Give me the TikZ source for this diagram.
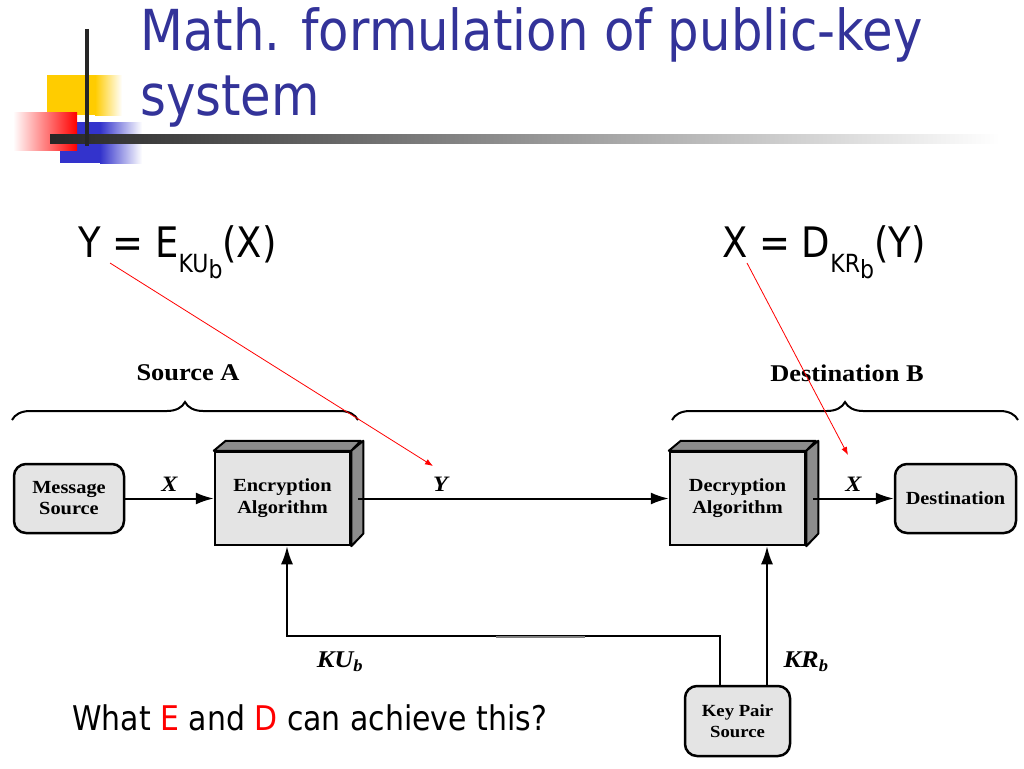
\documentclass[tikz,border=0pt]{standalone}
\usepackage{fontspec}
\setmainfont[FakeStretch=1.1]{Liberation Serif}
\newfontfamily\tahoma[FakeStretch=0.88]{DejaVu Sans}
\usepackage{tikz}
\usetikzlibrary{positioning, arrows.meta, decorations.pathreplacing}
\definecolor{titleblue}{RGB}{51,51,153}
\definecolor{ornyellow}{RGB}{255,204,0}
\definecolor{ornblue}{RGB}{51,51,204}
\definecolor{boxgray}{RGB}{228,228,228}
\definecolor{sidegray}{RGB}{140,140,140}
\tikzset{
  roundbox/.style={draw, line width=2.5pt, rounded corners=12pt, fill=boxgray, align=center, font=\fontsize{18.5}{21}\selectfont\bfseries},
  algobox/.style={draw, line width=2.5pt, fill=boxgray, minimum width=135pt, minimum height=93pt, align=center, font=\fontsize{18.5}{22}\selectfont\bfseries},
  flow/.style={line width=2pt, -{Latex[length=18pt,width=12pt]}},
  hint/.style={red, line width=0.8pt, -{Latex[length=8pt,width=6pt]}},
  varlabel/.style={font=\fontsize{22}{24}\selectfont\bfseries\itshape},
  grouplabel/.style={font=\fontsize{24}{26}\selectfont\bfseries},
  groupbrace/.style={decorate, decoration={brace, amplitude=18pt}, line width=2pt}
}
\begin{document}
\begin{tikzpicture}[x=1pt,y=-1pt]
\useasboundingbox (0,0) rectangle (1024,768);
\fill[ornyellow] (47,75) rectangle (95,115);
\shade[left color=ornyellow, right color=white] (95,75) rectangle (122,115);
\fill[ornblue] (60,122) rectangle (100,163);
\shade[left color=ornblue, right color=white] (100,122) rectangle (142,163);
\shade[left color=white, right color=red] (13,112) rectangle (77,150);
\shade[left color=black!85, right color=white] (50,134) rectangle (1000,143);
\draw[line width=4pt, black!85] (87,29) -- (87,146);

\node[anchor=base west, inner sep=0, text=titleblue, font=\tahoma\fontsize{56.5}{60}\selectfont] (title1) at (140,50) {Math. formulation of public-key};
\node[anchor=base west, inner sep=0, text=titleblue, font=\tahoma\fontsize{56.5}{60}\selectfont] (title2) at (140,115) {system};

\node[anchor=base west, inner sep=0, font=\tahoma\fontsize{42}{46}\selectfont] (enceq) at (78,257) {Y = E\raisebox{-15pt}{\fontsize{25}{27}\selectfont KU\raisebox{-6pt}{b}}(X)};
\node[anchor=base west, inner sep=0, font=\tahoma\fontsize{42}{46}\selectfont] (deceq) at (722,257) {X = D\raisebox{-15pt}{\fontsize{25}{27}\selectfont KR\raisebox{-6pt}{b}}(Y)};

\node[grouplabel] (srcA) at (188,373) {Source A};
\node[grouplabel] (dstB) at (847,373) {Destination B};
\draw[groupbrace] (12,420) -- (358,420);
\draw[groupbrace] (672,420) -- (1018,420);

\node[roundbox, minimum width=110pt, minimum height=69pt] (msg) at (69,498.5) {Message\\Source};
\node[algobox] (enc) at (282.5,498.5) {Encryption\\Algorithm};
\node[algobox] (dec) at (737.5,498.5) {Decryption\\Algorithm};
\node[roundbox, minimum width=121pt, minimum height=69pt] (dst) at (955.5,498.5) {Destination};
\node[roundbox, minimum width=105pt, minimum height=70pt, font=\fontsize{17}{21}\selectfont\bfseries] (keys) at (737.5,721) {Key Pair\\Source};

\fill[sidegray, draw=black, line width=2pt, line join=round] (enc.north west) -- ++(12,-10) -- ++(135,0) -- (enc.north east) -- cycle;
\fill[sidegray, draw=black, line width=2pt, line join=round] (enc.north east) -- ++(12,-10) -- ++(0,93) -- (enc.south east) -- cycle;
\fill[sidegray, draw=black, line width=2pt, line join=round] (dec.north west) -- ++(12,-10) -- ++(135,0) -- (dec.north east) -- cycle;
\fill[sidegray, draw=black, line width=2pt, line join=round] (dec.north east) -- ++(12,-10) -- ++(0,93) -- (dec.south east) -- cycle;

\draw[flow] (msg.east) -- (msg.east -| enc.west) node[varlabel, midway, above=3pt] {X};
\draw[flow] ([xshift=7pt]enc.east) -- (dec.west) node[varlabel, pos=0.265, above=3pt] {Y};
\draw[flow] ([xshift=7pt]dec.east) -- (dst.west) node[varlabel, midway, above=3pt] {X};
\draw[flow] ([xshift=-17.5pt]keys.north) -- ++(0,-49) -| ([xshift=4.5pt]enc.south);
\draw[line width=2pt, gray] (496,637) -- (585,637);
\draw[flow] ([xshift=29.5pt]keys.north) -- ([xshift=29.5pt]dec.south);
\node[varlabel, font=\fontsize{24}{26}\selectfont\bfseries\itshape] (kulabel) at (340,662) {KU\textsubscript{b}};
\node[varlabel, font=\fontsize{24}{26}\selectfont\bfseries\itshape] (krlabel) at (806,662) {KR\textsubscript{b}};

\coordinate (enctail) at (110,263);
\coordinate (enchead) at (433,466);
\coordinate (dectail) at (747,263);
\coordinate (dechead) at (848,455);
\draw[hint] (enctail) -- (enchead);
\draw[hint] (dectail) -- (dechead);

\node[anchor=base west, inner sep=0, font=\tahoma\fontsize{34}{38}\selectfont] (question) at (72,730) {What \textcolor{red}{E} and \textcolor{red}{D} can achieve this?};
\end{tikzpicture}
\end{document}
